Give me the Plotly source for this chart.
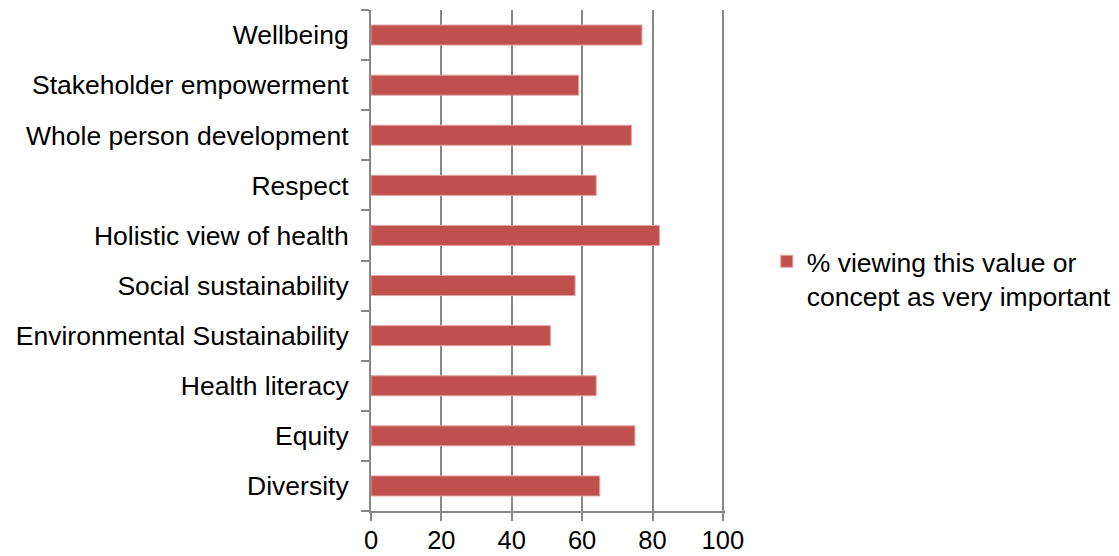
import plotly.graph_objects as go

# Categories listed bottom-to-top as they appear on the value axis
categories = [
    "Diversity",
    "Equity",
    "Health literacy",
    "Environmental Sustainability",
    "Social sustainability",
    "Holistic view of health",
    "Respect",
    "Whole person development",
    "Stakeholder empowerment",
    "Wellbeing",
]
pct_very_important = [65, 75, 64, 51, 58, 82, 64, 74, 59, 77]
series_name = "% viewing this value or<br>concept as very important"
x_ticks = [0, 20, 40, 60, 80, 100]

FONT = "Liberation Sans, Arial, sans-serif"
GRID = "#878787"
FS = 26.5

fig = go.Figure(
    go.Bar(
        x=pct_very_important,
        y=categories,
        orientation="h",
        name=series_name,
        marker=dict(color="#C0504D", line=dict(color="#E3A3A1", width=1)),
        showlegend=True,
    )
)

fig.update_layout(
    width=1119,
    height=556,
    margin=dict(l=371, r=394, t=10, b=45, autoexpand=False),
    paper_bgcolor="white",
    plot_bgcolor="white",
    font=dict(family=FONT, size=FS, color="black"),
    bargap=0.6,
    legend=dict(
        x=1.118,
        y=0.464,
        xanchor="left",
        yanchor="middle",
        valign="top",
        font=dict(family=FONT, size=FS, color="black"),
        itemwidth=30,
        tracegroupgap=0,
    ),
)

fig.update_xaxes(
    range=[0, 100.6],
    tickvals=x_ticks,
    ticktext=[str(v) for v in x_ticks],
    showgrid=True,
    gridcolor=GRID,
    gridwidth=2,
    showline=True,
    linecolor=GRID,
    linewidth=2,
    ticks="outside",
    ticklen=8,
    tickcolor=GRID,
    tickwidth=2,
    ticklabelstandoff=-3,
    zeroline=False,
    automargin=False,
    tickfont=dict(family=FONT, size=25.5, color="black"),
)

fig.update_yaxes(
    type="category",
    categoryorder="array",
    categoryarray=categories,
    tickson="boundaries",
    showgrid=False,
    showline=True,
    linecolor=GRID,
    linewidth=2,
    ticks="outside",
    ticklen=8,
    tickcolor=GRID,
    tickwidth=2,
    ticklabelstandoff=15,
    automargin=False,
    tickfont=dict(family=FONT, size=FS, color="black"),
)

fig.write_html("out.html")
